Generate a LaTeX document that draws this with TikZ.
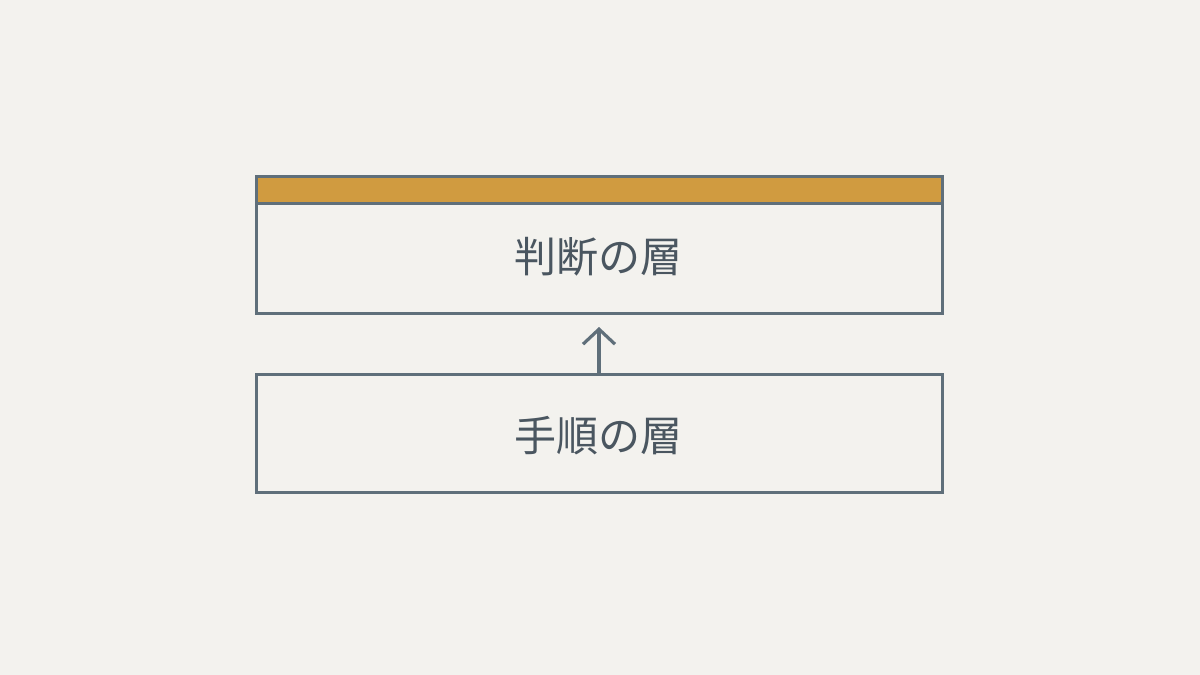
\documentclass[tikz,border=0pt]{standalone}
\usepackage{fontspec}
\newfontfamily\cjk{Noto Sans CJK JP}
\usetikzlibrary{arrows.meta}
\definecolor{bg}{HTML}{F3F2EE}
\definecolor{edge}{HTML}{5F6F7A}
\definecolor{band}{HTML}{D09B40}
\definecolor{txt}{HTML}{4A5660}
\tikzset{
  layer/.style={draw=edge,line width=3.2pt,fill=bg},
  lbl/.style={font=\cjk\fontsize{42}{48}\selectfont,text=txt},
  conn/.style={draw=edge,line width=3.2pt,-{Straight Barb[length=15pt,width=32pt,line width=3.2pt]}}
}
\begin{document}
\begin{tikzpicture}[x=1pt,y=-1pt]
\fill[bg] (0,0) rectangle (1200,675);
\useasboundingbox (0,0) rectangle (1200,675);
% top box
\draw[layer] (256.5,176.5) rectangle (942.5,313.5);
\fill[band] (258,178) rectangle (941,202);
\draw[edge,line width=3.2pt] (256.5,203.5) -- (942.5,203.5);
\node[lbl] (top) at (598,257) {判断の層};
\coordinate (topb) at (599,313.5);
% bottom box
\draw[layer] (256.5,374.5) rectangle (942.5,492.5);
\node[lbl] (bot) at (598,436) {手順の層};
\coordinate (bott) at (599,374.5);
\coordinate (tip) at (599,327);
\draw[conn] (bott) -- (tip);
\end{tikzpicture}
\end{document}
